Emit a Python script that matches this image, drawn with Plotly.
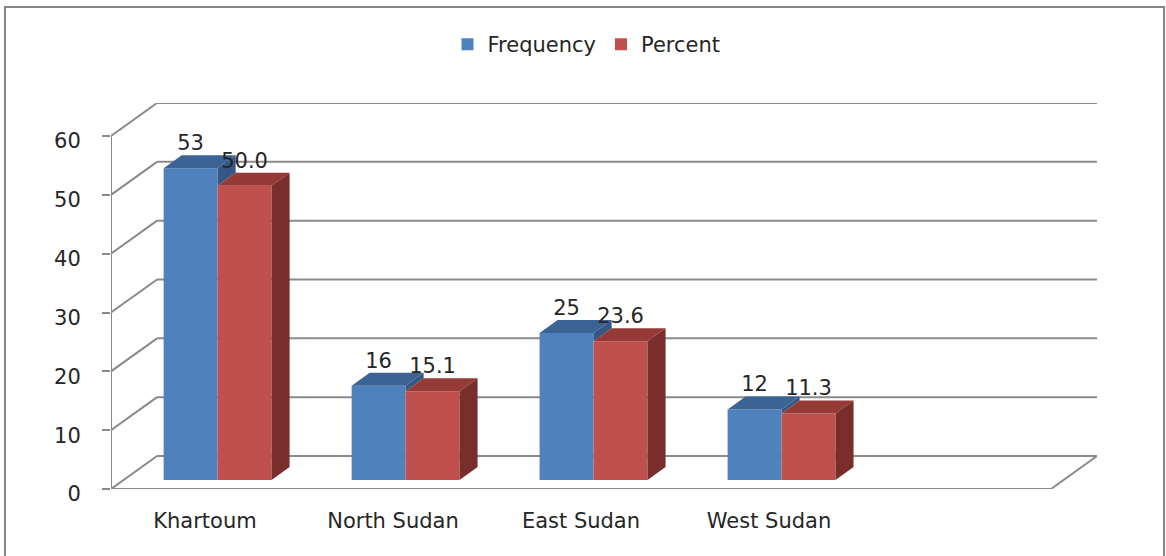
import plotly.graph_objects as go

# ---- data ----
categories = ["Khartoum", "North Sudan", "East Sudan", "West Sudan"]
frequency = [53, 16, 25, 12]
percent = [50.0, 15.1, 23.6, 11.3]
y_ticks = [0, 10, 20, 30, 40, 50, 60]
n_slots = 5  # the category axis has one empty slot at the end

# ---- pseudo-3D geometry (in data units) ----
WALL_DX, WALL_DY = 0.245, 5.61      # depth of the floor / side wall
PLANE_DX, PLANE_DY = 0.067, 1.53    # bars stand a little behind the front edge
BAR_DX, BAR_DY = 0.096, 2.21        # depth of each bar
BAR_W = 0.287

BLUE, BLUE_TOP, BLUE_SIDE = "#4F81BD", "#3B6495", "#345785"
RED, RED_TOP, RED_SIDE = "#C0504D", "#963A37", "#792E2C"
GRID = "#8A8A8A"
TEXT = "#262626"
FONT = "DejaVu Sans"
FS = 21

blue_x = [i + 0.5 + PLANE_DX - BAR_W / 2 for i in range(len(categories))]
red_x = [i + 0.5 + PLANE_DX + BAR_W / 2 for i in range(len(categories))]


def top_face(cx, val):
    t = PLANE_DY + val
    l, r = cx - BAR_W / 2, cx + BAR_W / 2
    return [l, r, r + BAR_DX, l + BAR_DX, l, None], [t, t, t + BAR_DY, t + BAR_DY, t, None]


def side_face(cx, lo, hi):
    r = cx + BAR_W / 2
    b, t = PLANE_DY + lo, PLANE_DY + hi
    return [r, r + BAR_DX, r + BAR_DX, r, r, None], [b, b + BAR_DY, t + BAR_DY, t, b, None]


def collect(faces):
    xs, ys = [], []
    for fx, fy in faces:
        xs += fx
        ys += fy
    return xs, ys


fig = go.Figure()

# front faces
fig.add_trace(go.Bar(name="Frequency", x=blue_x, y=frequency, base=PLANE_DY, width=BAR_W,
                     marker=dict(color=BLUE, line=dict(width=0))))
fig.add_trace(go.Bar(name="Percent", x=red_x, y=percent, base=PLANE_DY, width=BAR_W,
                     marker=dict(color=RED, line=dict(width=0))))

# top and side faces
faces = [
    (collect([top_face(c, v) for c, v in zip(blue_x, frequency)]), BLUE_TOP),
    (collect([side_face(c, p, v) for c, v, p in zip(blue_x, frequency, percent) if v > p]), BLUE_SIDE),
    (collect([top_face(c, v) for c, v in zip(red_x, percent)]), RED_TOP),
    (collect([side_face(c, 0, v) for c, v in zip(red_x, percent)]), RED_SIDE),
]
for (xs, ys), col in faces:
    fig.add_trace(go.Scatter(x=xs, y=ys, mode="lines", fill="toself", fillcolor=col,
                             line=dict(width=0, color=col), hoverinfo="skip", showlegend=False))

# value labels
for xs, vals, fmt in [(blue_x, frequency, "{:.0f}"), (red_x, percent, "{:.1f}")]:
    fig.add_trace(go.Scatter(x=xs, y=[PLANE_DY + v + BAR_DY for v in vals], mode="text",
                             text=[fmt.format(v) for v in vals], textposition="top center",
                             textfont=dict(family=FONT, size=FS, color=TEXT),
                             hoverinfo="skip", showlegend=False, cliponaxis=False))

# walls, floor and axis lines
shapes = []
line = dict(color=GRID, width=2)
for v in y_ticks:
    shapes.append(dict(type="line", xref="x", yref="y", x0=0, y0=v, x1=WALL_DX, y1=v + WALL_DY,
                       line=line, layer="below"))
    shapes.append(dict(type="line", xref="x", yref="y", x0=WALL_DX, y0=v + WALL_DY,
                       x1=n_slots + WALL_DX, y1=v + WALL_DY, line=line, layer="below"))
shapes.append(dict(type="line", xref="x", yref="y", x0=0, y0=0, x1=0, y1=y_ticks[-1],
                   line=line, layer="below"))
shapes.append(dict(type="line", xref="x", yref="y", x0=0, y0=0, x1=n_slots, y1=0,
                   line=line, layer="below"))
shapes.append(dict(type="line", xref="x", yref="y", x0=n_slots, y0=0, x1=n_slots + WALL_DX,
                   y1=WALL_DY, line=line, layer="below"))
for k in range(n_slots + 1):
    shapes.append(dict(type="line", xref="x", yref="y", x0=k, y0=0, x1=k, y1=-1.36,
                       line=line, layer="below"))
# chart frame
shapes.append(dict(type="rect", xref="paper", yref="paper", x0=-0.1075, y0=-0.2, x1=1.068, y1=1.2487,
                   line=dict(color="#868686", width=2), layer="below"))

fig.update_layout(
    width=1166, height=556,
    margin=dict(l=111, r=69, t=103, b=67),
    paper_bgcolor="white", plot_bgcolor="white",
    barmode="overlay",
    shapes=shapes,
    font=dict(family=FONT, size=FS, color=TEXT),
    showlegend=True,
    legend=dict(orientation="h", xref="container", yref="container", x=0.503, y=0.92,
                xanchor="center", yanchor="middle", font=dict(family=FONT, size=FS, color=TEXT),
                bgcolor="rgba(0,0,0,0)"),
    xaxis=dict(range=[0, n_slots + WALL_DX], showgrid=False, zeroline=False, showline=False,
               tickmode="array", tickvals=[i + 0.5 for i in range(len(categories))],
               ticktext=categories, ticks="", ticklabelstandoff=17,
               tickfont=dict(family=FONT, size=FS, color=TEXT)),
    yaxis=dict(range=[0, y_ticks[-1] + WALL_DY], showgrid=False, zeroline=False, showline=False,
               tickmode="array", tickvals=y_ticks, ticks="outside", ticklen=8, tickwidth=2,
               tickcolor=GRID, ticklabelstandoff=17, ticklabelshift=5,
               tickfont=dict(family=FONT, size=FS, color=TEXT)),
)

fig.write_html("out.html")
